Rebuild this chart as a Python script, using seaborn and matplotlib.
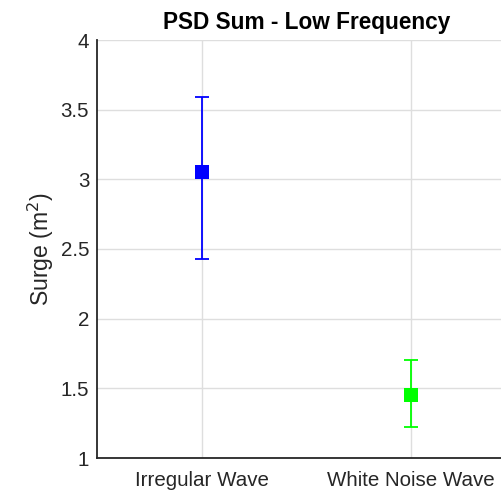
import matplotlib
matplotlib.use("Agg")
import matplotlib.pyplot as plt
import seaborn as sns
import pandas as pd

categories = ["Irregular Wave", "White Noise Wave"]
means = [3.05, 1.45]
lower = [2.43, 1.22]
upper = [3.59, 1.70]
colors = ["#0000ff", "#00ff00"]
yticks = [1, 1.5, 2, 2.5, 3, 3.5, 4]
yticklabels = ["1", "1.5", "2", "2.5", "3", "3.5", "4"]

sns.set_style("white")
plt.rcParams["font.family"] = ["Liberation Sans", "DejaVu Sans"]

df = pd.DataFrame({"cat": categories, "mean": means, "lo": lower, "hi": upper})

fig = plt.figure(figsize=(5.02, 4.90), dpi=100)
ax = fig.add_axes([97.5 / 502, 32 / 490, 418 / 502, 418 / 490])

ax.grid(True, color="#dedede", lw=1.0, zorder=0)
ax.set_axisbelow(True)

for i, row in df.iterrows():
    ax.errorbar([row["cat"]], [row["mean"]],
                yerr=[[row["mean"] - row["lo"]], [row["hi"] - row["mean"]]],
                fmt="none", ecolor=colors[i], elinewidth=1.3, capsize=4.8,
                capthick=1.3, zorder=3)

sns.scatterplot(data=df, x="cat", y="mean", hue="cat", palette=colors,
                marker="s", s=100, edgecolor="none", legend=False, ax=ax, zorder=4)

ax.set_xlim(-0.5, 1.5)
ax.set_ylim(1, 4)
ax.set_yticks(yticks)
ax.set_yticklabels(yticklabels)
ax.tick_params(axis="both", direction="in", length=4, width=1, labelsize=14.8,
               colors="#262626", pad=6)
ax.tick_params(axis="x", pad=9)
for lab in ax.get_xticklabels() + ax.get_yticklabels():
    lab.set_color("#262626")

ax.set_xlabel("")
ax.set_ylabel("Surge (m$^2$)", fontsize=16.6, color="#262626", labelpad=3)
ax.set_title("PSD Sum - Low Frequency", fontsize=16.3, fontweight="bold",
             color="black", pad=8)

for s in ["top", "right"]:
    ax.spines[s].set_visible(False)
for s in ["left", "bottom"]:
    ax.spines[s].set_color("#262626")
    ax.spines[s].set_linewidth(1.3)

fig.savefig("out.png", dpi=100)
